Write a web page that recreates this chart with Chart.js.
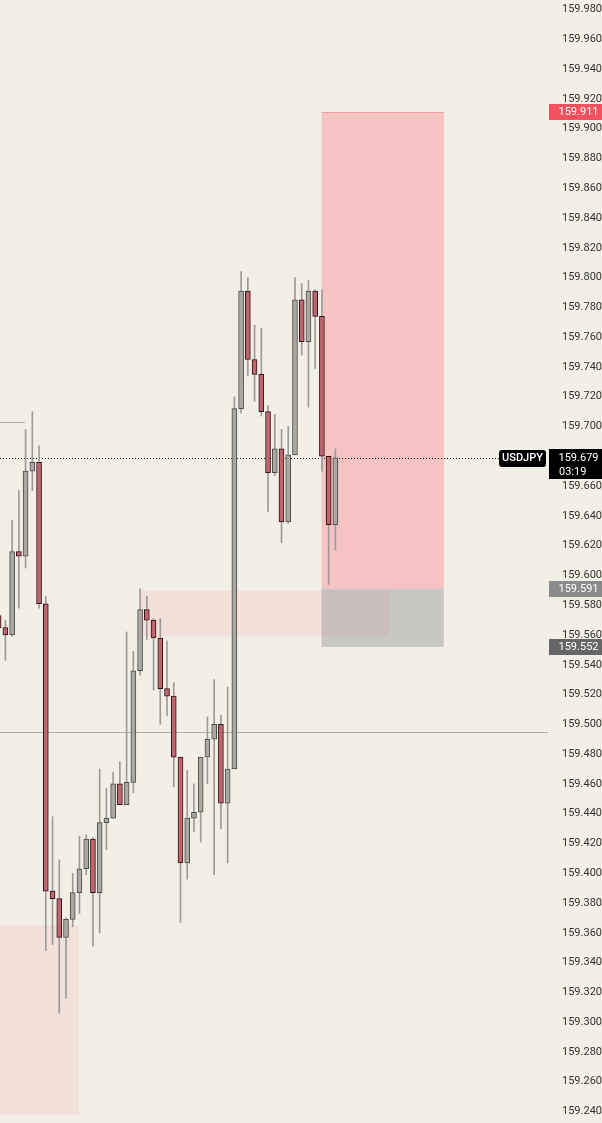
<!DOCTYPE html>
<html><head><meta charset="utf-8">
<script src="https://cdn.jsdelivr.net/npm/chart.js@4.4.1/dist/chart.umd.min.js"></script>
<style>html,body{margin:0;padding:0;background:#f2efe6;overflow:hidden}#wrap{width:602px;height:1123px;position:relative}</style>
</head><body><div id="wrap"><canvas id="c"></canvas></div>
<script>
const symbol = 'USDJPY';
const lastPrice = 159.679;
const countdown = '03:19';
const opens  = [159.573,159.565,159.560,159.616,159.613,159.670,159.676,159.581,159.388,159.383,159.357,159.369,159.387,159.403,159.423,159.387,159.434,159.437,159.460,159.446,159.461,159.536,159.577,159.570,159.558,159.524,159.519,159.478,159.407,159.437,159.441,159.478,159.490,159.500,159.447,159.470,159.712,159.791,159.745,159.735,159.710,159.669,159.685,159.636,159.681,159.785,159.757,159.791,159.774,159.680,159.634];
const highs  = [159.576,159.570,159.637,159.657,159.698,159.710,159.687,159.586,159.438,159.409,159.370,159.400,159.425,159.426,159.424,159.470,159.457,159.468,159.475,159.562,159.549,159.591,159.586,159.571,159.571,159.556,159.528,159.478,159.469,159.460,159.478,159.505,159.530,159.506,159.525,159.720,159.804,159.800,159.768,159.766,159.714,159.708,159.698,159.700,159.800,159.796,159.798,159.792,159.792,159.680,159.685];
const lows   = [159.562,159.543,159.559,159.578,159.605,159.657,159.578,159.348,159.352,159.306,159.316,159.364,159.373,159.399,159.351,159.360,159.416,159.437,159.446,159.446,159.454,159.533,159.557,159.523,159.500,159.506,159.458,159.367,159.396,159.428,159.421,159.460,159.399,159.430,159.407,159.470,159.709,159.734,159.717,159.707,159.643,159.667,159.622,159.635,159.681,159.748,159.713,159.739,159.670,159.594,159.617];
const closes = [159.565,159.560,159.616,159.613,159.670,159.676,159.581,159.388,159.383,159.357,159.369,159.387,159.403,159.423,159.387,159.434,159.437,159.460,159.446,159.461,159.536,159.577,159.570,159.558,159.524,159.519,159.478,159.407,159.437,159.441,159.478,159.490,159.500,159.447,159.470,159.712,159.791,159.745,159.735,159.710,159.669,159.685,159.636,159.681,159.785,159.757,159.791,159.774,159.680,159.634,159.679];
const yTickValues = [159.240,159.260,159.280,159.300,159.320,159.340,159.360,159.380,159.400,159.420,159.440,159.460,159.480,159.500,159.520,159.540,159.560,159.580,159.600,159.620,159.640,159.660,159.680,159.700,159.720,159.740,159.760,159.780,159.800,159.820,159.840,159.860,159.880,159.900,159.920,159.940,159.960,159.980];
// zones in bar-index / price units
const zoneRanges = [
  {from:-5, to:11.93, top:159.365, bottom:159.238},
  {from:20.99, to:57.96, top:159.590, bottom:159.559},
  {from:47.95, to:66.1, top:159.911, bottom:159.591},
  {from:47.95, to:66.1, top:159.591, bottom:159.552}
];
const zoneStyles = [
  {fill:'#f3e0d9'},
  {fill:'#f3e0d9'},
  {fill:'#f4c3c2', topLine:'rgba(232,130,130,0.6)'},
  {fill:'rgba(137,141,145,0.40)'}
];
const hLines = [
  {price:159.495, from:null, to:null, color:'#b3aea6', dash:[]},
  {price:159.703, from:-5, to:3.9, color:'#b3aea6', dash:[]}
];
const priceTags = [
  {price:159.911, bg:'#f2525f', text:'159.911'},
  {price:159.591, bg:'#8b8b8b', text:'159.591'},
  {price:159.552, bg:'#666666', text:'159.552'}
];

const idx = opens.map((_, i) => i);
const wickData = idx.map(i => ({x:i, y:[lows[i], highs[i]]}));
const bodyData = idx.map(i => ({x:i, y:[Math.min(opens[i], closes[i]), Math.max(opens[i], closes[i])]}));
const isUp = idx.map(i => closes[i] >= opens[i]);

const FONT = 'Roboto, "Noto Sans", sans-serif';

const overlay = {
  id:'overlay',
  beforeDatasetsDraw(chart){
    const {ctx, chartArea:a, scales:{x, y}} = chart;
    ctx.save();
    ctx.beginPath(); ctx.rect(a.left, a.top, a.right-a.left, a.bottom-a.top); ctx.clip();
    zoneRanges.forEach((z, k) => {
      const s = zoneStyles[k];
      const x1 = x.getPixelForValue(z.from), x2 = x.getPixelForValue(z.to);
      const y1 = y.getPixelForValue(z.top), y2 = y.getPixelForValue(z.bottom);
      ctx.fillStyle = s.fill;
      ctx.fillRect(x1, y1, x2-x1, y2-y1);
      if (s.topLine){ ctx.fillStyle = s.topLine; ctx.fillRect(x1, Math.round(y1), x2-x1, 1); }
    });
    hLines.forEach(l => {
      const py = Math.round(y.getPixelForValue(l.price)) + 0.5;
      const x1 = l.from===null ? a.left : x.getPixelForValue(l.from);
      const x2 = l.to===null ? a.right : x.getPixelForValue(l.to);
      ctx.strokeStyle = l.color; ctx.lineWidth = 1; ctx.setLineDash(l.dash);
      ctx.beginPath(); ctx.moveTo(x1, py); ctx.lineTo(x2, py); ctx.stroke();
    });
    const py = Math.round(y.getPixelForValue(lastPrice)) + 0.5;
    ctx.strokeStyle = '#111'; ctx.setLineDash([1,2]);
    ctx.beginPath(); ctx.moveTo(a.left, py); ctx.lineTo(499, py); ctx.stroke();
    ctx.restore();
  },
  afterDraw(chart){
    const {ctx, chartArea:a, scales:{y}} = chart;
    const W = chart.width;
    ctx.save();
    ctx.font = '11px ' + FONT;
    ctx.textBaseline = 'middle';
    priceTags.forEach(t => {
      const py = y.getPixelForValue(t.price);
      ctx.fillStyle = t.bg;
      ctx.fillRect(a.right+1, Math.round(py)-8, W-a.right-1, 16);
      ctx.fillStyle = '#ffffff'; ctx.textAlign = 'right';
      ctx.fillText(t.text, 598.5, py);
    });
    const py = y.getPixelForValue(lastPrice);
    ctx.fillStyle = '#000';
    ctx.fillRect(a.right+1, Math.round(py)-9, W-a.right-1, 30);
    ctx.fillStyle = '#fff'; ctx.textAlign = 'right';
    ctx.fillText(lastPrice.toFixed(3), 598.5, py);
    ctx.textAlign = 'left';
    ctx.fillText(countdown, 559, py+14);
    const lx = 499, lw = 47, ly = Math.round(py)-8, lh = 17;
    ctx.fillStyle = '#000';
    ctx.beginPath();
    if (ctx.roundRect) ctx.roundRect(lx, ly, lw, lh, 3); else ctx.rect(lx, ly, lw, lh);
    ctx.fill();
    ctx.fillStyle = '#fff'; ctx.textAlign = 'center';
    ctx.font = '500 11px ' + FONT;
    ctx.fillText(symbol, lx + lw/2, py+0.5);
    ctx.restore();
  }
};

new Chart(document.getElementById('c'), {
  type:'bar',
  data:{
    datasets:[
      {label:'wick', data:wickData, backgroundColor:'#9c9b97', borderWidth:0, barThickness:1, grouped:false, order:2},
      {label:'body', data:bodyData,
       backgroundColor: isUp.map(u => u ? '#a9a8a1' : '#c0656e'),
       borderColor: isUp.map(u => u ? '#4d4d4b' : '#2e1214'),
       borderWidth:1, borderSkipped:false, barThickness:5, grouped:false, order:1}
    ]
  },
  options:{
    responsive:true, maintainAspectRatio:false, animation:false, devicePixelRatio:1,
    layout:{padding:0},
    plugins:{legend:{display:false}, tooltip:{enabled:false}},
    events:[],
    scales:{
      x:{type:'linear', min:0.2, max:81.57, offset:false, display:false, grid:{display:false}},
      y:{type:'linear', position:'right', min:159.2323, max:159.9864,
         grid:{display:false, drawTicks:false}, border:{display:false},
         afterBuildTicks(s){ s.ticks = yTickValues.map(v => ({value:v})); },
         afterFit(s){ s.width = 54; s.paddingTop = 0; s.paddingBottom = 0; },
         ticks:{autoSkip:false, crossAlign:'far', padding:7, color:'#333333',
                font:{family:FONT, size:11}, callback:v => Number(v).toFixed(3)}}
    }
  },
  plugins:[overlay]
});
</script>
</body></html>
